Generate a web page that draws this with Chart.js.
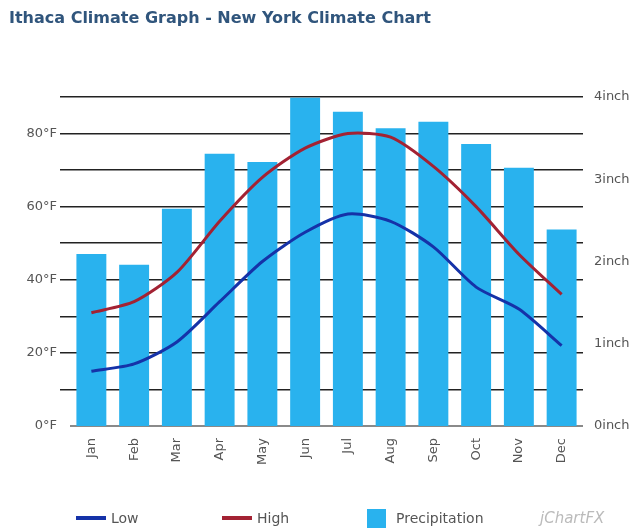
<!DOCTYPE html>
<html>
<head>
<meta charset="utf-8">
<script src="https://cdn.jsdelivr.net/npm/chart.js@4.4.1/dist/chart.umd.min.js"></script>
<style>
  body { margin: 0; background: #fff; }
  #wrap { position: relative; width: 636px; height: 531px; font-family: "DejaVu Sans", Verdana, sans-serif; }
  #title { position: absolute; left: 9px; top: 8px; font-size: 16px; font-weight: bold; color: #30557c; }
  #chart { position: absolute; left: 0; top: 0; }
  #legend { position: absolute; left: 0; top: 508px; width: 636px; height: 22px; font-size: 14px; color: #555; }
  .item { position: absolute; top: 0; height: 20px; display: flex; align-items: center; }
  .swatch { display: inline-block; margin-right: 5px; }
  #brand { position: absolute; left: 540px; top: 509px; font-size: 15px; font-style: italic; color: #bbb; }
</style>
</head>
<body>
<div id="wrap">
  <canvas id="chart" width="636" height="531"></canvas>
  <div id="title">Ithaca Climate Graph - New York Climate Chart</div>
  <div id="legend"></div>
  <div id="brand">jChartFX</div>
</div>
<script>
const months = ['Jan', 'Feb', 'Mar', 'Apr', 'May', 'Jun', 'Jul', 'Aug', 'Sep', 'Oct', 'Nov', 'Dec'];
const lowF = [15, 17, 23, 34, 45, 53, 58, 56, 49, 38, 32, 22];
const highF = [31, 34, 42, 56, 68, 76, 80, 79, 71, 60, 47, 36];
const precipIn = [2.09, 1.96, 2.64, 3.31, 3.21, 3.99, 3.82, 3.62, 3.70, 3.43, 3.14, 2.39];

var blue = '#1532a8';
var red = '#a32233';
var sky = '#29b2ee';
var gray = '#555';

const chart = new Chart(document.getElementById('chart'), {
  data: {
    labels: months,
    datasets: [{
      type: 'line',
      label: 'Low',
      data: lowF,
      yAxisID: 'y',
      borderColor: blue,
      borderWidth: 3,
      pointRadius: 0,
      tension: 0.25,
      order: 0
    }, {
      type: 'line',
      label: 'High',
      data: highF,
      yAxisID: 'y',
      borderColor: red,
      borderWidth: 3,
      pointRadius: 0,
      tension: 0.25,
      order: 0
    }, {
      type: 'bar',
      label: 'Precipitation',
      data: precipIn,
      yAxisID: 'y1',
      backgroundColor: sky,
      barPercentage: 0.7,
      categoryPercentage: 1.0,
      order: 1
    }]
  },
  options: {
    responsive: false,
    animation: false,
    devicePixelRatio: 1,
    layout: { padding: { top: 97, bottom: 0, left: 0, right: 0 } },
    plugins: {
      legend: { display: false },
      tooltip: { enabled: false }
    },
    scales: {
      x: {
        offset: true,
        grid: { display: false, drawTicks: false },
        border: { display: false },
        ticks: {
          color: gray,
          font: { family: 'DejaVu Sans', size: 13 },
          minRotation: 90,
          maxRotation: 90,
          padding: 12
        },
        afterFit: s => { s.height = 105; }
      },
      y: {
        position: 'left',
        min: 0,
        max: 90,
        border: { display: false },
        grid: {
          color: c => c.tick.value === 0 ? '#8a8a8a' : '#222',
          lineWidth: c => c.tick.value === 0 ? 2 : 1.5,
          tickColor: c => c.tick.value === 0 ? 'rgba(0,0,0,0)' : '#222',
          tickLength: 10
        },
        ticks: {
          stepSize: 10,
          color: gray,
          padding: 3,
          font: { family: 'DejaVu Sans', size: 13 },
          callback: v => v % 20 === 0 ? v + '°F' : ''
        },
        afterFit: s => { s.width = 70; }
      },
      y1: {
        position: 'right',
        min: 0,
        max: 4,
        border: { display: false },
        grid: { display: false, drawTicks: false },
        ticks: {
          stepSize: 1,
          color: gray,
          padding: 11,
          font: { family: 'DejaVu Sans', size: 13 },
          callback: v => v + 'inch'
        },
        afterFit: s => { s.width = 53; }
      }
    }
  }
});

// legend row under the axis, built from the datasets
const legendX = [76, 222, 367];
const legend = document.getElementById('legend');
chart.data.datasets.forEach((ds, i) => {
  const item = document.createElement('div');
  item.className = 'item';
  item.style.left = legendX[i] + 'px';
  const sw = document.createElement('span');
  sw.className = 'swatch';
  if (ds.type === 'line') {
    sw.style.width = '30px';
    sw.style.height = '4px';
    sw.style.background = ds.borderColor;
  } else {
    sw.style.width = '19px';
    sw.style.height = '19px';
    sw.style.background = ds.backgroundColor;
    sw.style.marginRight = '10px';
  }
  item.appendChild(sw);
  item.appendChild(document.createTextNode(ds.label));
  legend.appendChild(item);
});
</script>
</body>
</html>
